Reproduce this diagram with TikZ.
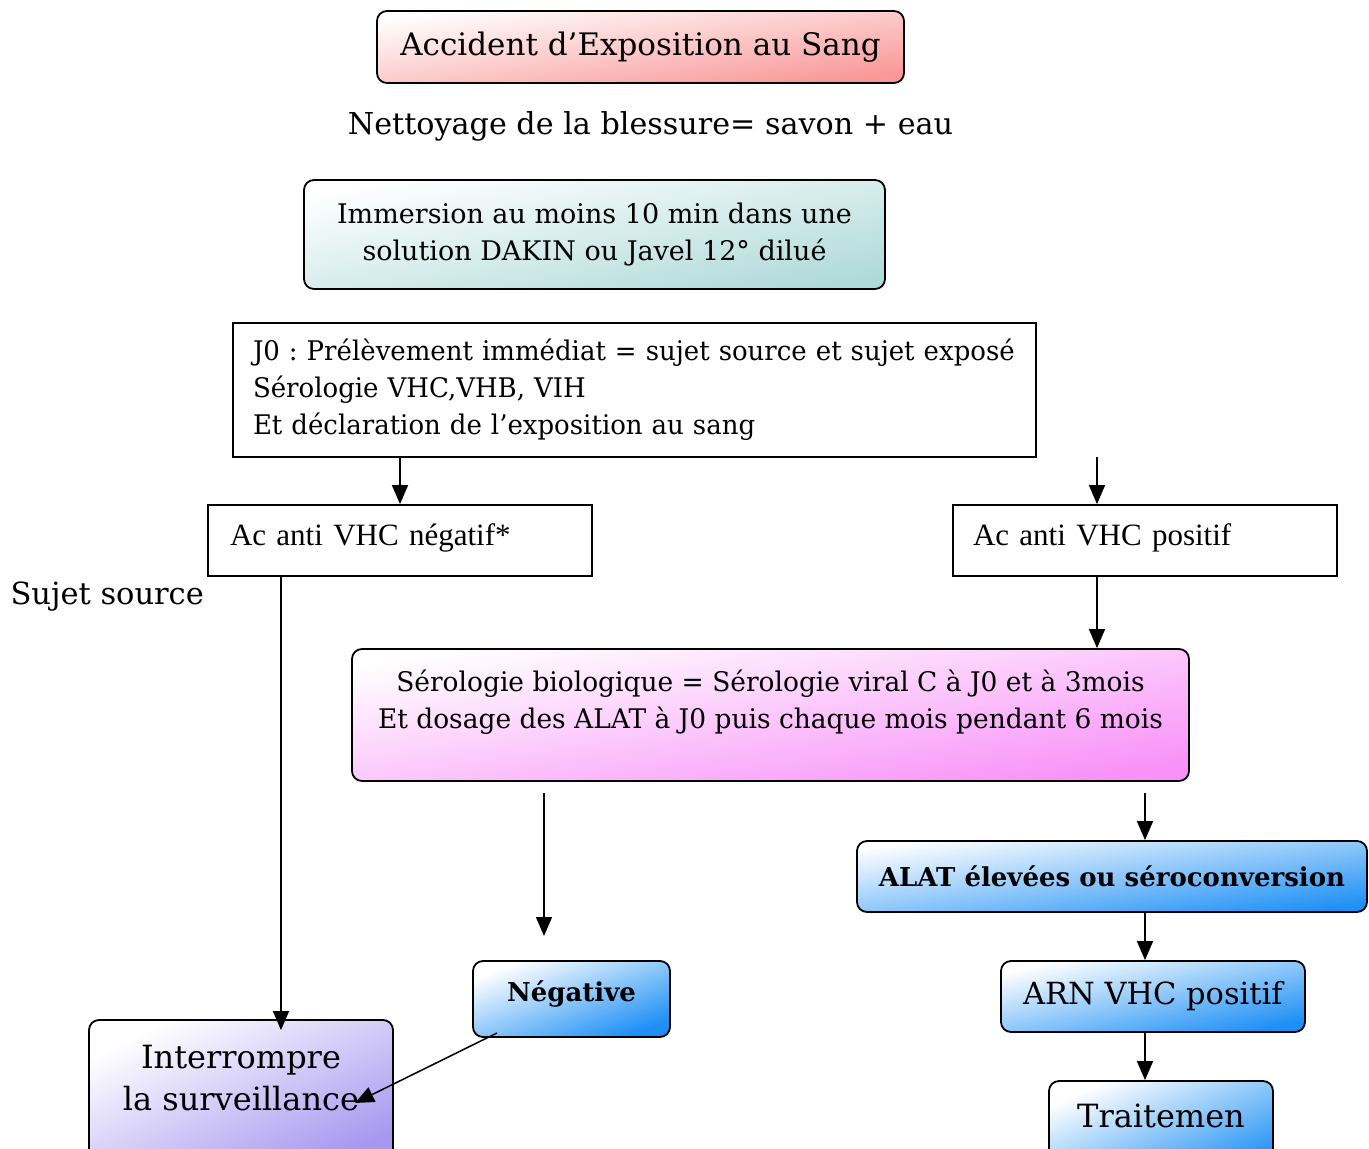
\documentclass[tikz,border=0pt]{standalone}
\usepackage{fontspec}
\setmainfont{DejaVu Serif}
\newfontfamily\timesf{Liberation Serif}
\newfontfamily\condf[FakeStretch=0.963]{DejaVu Serif}
\newfontfamily\condg[FakeStretch=0.98]{DejaVu Serif}
\usetikzlibrary{arrows.meta}
\definecolor{cred}{RGB}{249,150,150}
\definecolor{cteal}{RGB}{176,218,218}
\definecolor{cmag}{RGB}{248,145,248}
\definecolor{cblue}{RGB}{30,144,245}
\definecolor{cpurp}{RGB}{166,152,240}
\tikzset{
  box/.style={draw, line width=1.8pt, inner sep=0pt},
  rbox/.style={box, rounded corners=10pt},
  shd/.style 2 args={top color=white, bottom color=#1, shading angle=#2},
  arr/.style={line width=1.5pt, -{Triangle[length=19pt,width=16pt]}},
  fA/.style={font=\fontsize{31}{37}\selectfont},
  fC/.style={font=\condf\fontsize{27}{37}\selectfont},
  fG/.style={font=\condg\fontsize{27}{37}\selectfont},
  fT/.style={font=\timesf\fontsize{31}{36}\selectfont},
  fB/.style={font=\bfseries\fontsize{26}{32}\selectfont},
}
\begin{document}
\frenchspacing
\begin{tikzpicture}[x=1pt,y=-1pt]
\useasboundingbox (0,0) rectangle (1369,1149);
\clip (0,0) rectangle (1369,1149);
\node[rbox, shd={cred}{7.8}, minimum width=527pt, minimum height=72pt, fA] (aes) at (640.5,47) {Accident d’Exposition au Sang};
\node[font=\fontsize{30.2}{37}\selectfont] (net) at (650.5,126) {Nettoyage de la blessure= savon + eau};
\node[rbox, shd={cteal}{10.6}, minimum width=581pt, minimum height=109pt, align=center, font=\fontsize{27}{37}\selectfont] (imm) at (594.5,234.5) {Immersion au moins 10 min dans une\\solution DAKIN ou Javel 12° dilué};
\node[box, fill=white, minimum width=803pt, minimum height=134pt, text width=763pt, align=left, fC] (j0) at (634.5,390) {J0 : Prélèvement immédiat = sujet source et sujet exposé\\Sérologie VHC,VHB, VIH\\Et déclaration de l’exposition au sang};
\node[box, minimum width=384pt, text width=340pt, align=left, text height=40pt, text depth=31pt, fT] (acn) at (400,540.5) {Ac anti VHC négatif*};
\node[box, minimum width=384pt, text width=344pt, align=left, text height=40pt, text depth=31pt, fT] (acp) at (1145,540.5) {Ac anti VHC positif};
\node[anchor=west, font=\fontsize{30.5}{37}\selectfont] (suj) at (7,597) {Sujet source};
\node[rbox, shd={cmag}{9}, minimum width=837pt, minimum height=132pt] (sero) at (770.5,715) {};
\node[align=center, fG] (serot) at (770.5,702) {Sérologie biologique = Sérologie viral C à J0 et à 3mois\\Et dosage des ALAT à J0 puis chaque mois pendant 6 mois};
\node[rbox, shd={cblue}{7.9}, minimum width=510pt, minimum height=71pt, fB] (alat) at (1112,876.5) {ALAT élevées ou séroconversion};
\node[rbox, shd={cblue}{21}, minimum width=197pt, text height=40pt, text depth=36pt, fB] (neg) at (571.5,999) {Négative};
\node[rbox, shd={cblue}{13}, minimum width=304pt, minimum height=71pt, font=\fontsize{30.5}{37}\selectfont] (arn) at (1153,996.5) {ARN VHC positif};
\node[rbox, shd={cpurp}{26}, minimum width=304pt, minimum height=150pt] (inter) at (241,1095) {};
\node[align=center, font=\fontsize{32}{42}\selectfont] (intert) at (241,1078) {Interrompre\\la surveillance};
\node[rbox, shd={cblue}{24}, minimum width=224pt, minimum height=100pt] (trait) at (1161,1131) {};
\node[font=\fontsize{32}{38}\selectfont] (traitt) at (1161,1116) {Traitemen};
% coordinates
\coordinate (fp) at (1097,457);
\coordinate (xl) at (281,0);
\coordinate (nm1) at (544,793);
\coordinate (nm2) at (544,936);
\coordinate (xr) at (1145,793);
\coordinate (ns) at (497,1033);
\coordinate (ne) at (355,1103);
% connectors
\draw[arr] (j0.south -| acn.north) -- (acn.north);
\draw[arr] (fp) -- (fp |- acp.north);
\draw[arr] (acp.south -| fp) -- (sero.north -| fp);
\draw[arr] (acn.south -| xl) -- ([yshift=-11pt]inter.north -| xl);
\draw[arr] (nm1) -- (nm2);
\draw[arr] (xr) -- (alat.north -| xr);
\draw[arr] (alat.south -| xr) -- (arn.north -| xr);
\draw[arr] (arn.south -| xr) -- (trait.north -| xr);
\draw[arr] (ns) -- (ne);
\end{tikzpicture}
\end{document}
